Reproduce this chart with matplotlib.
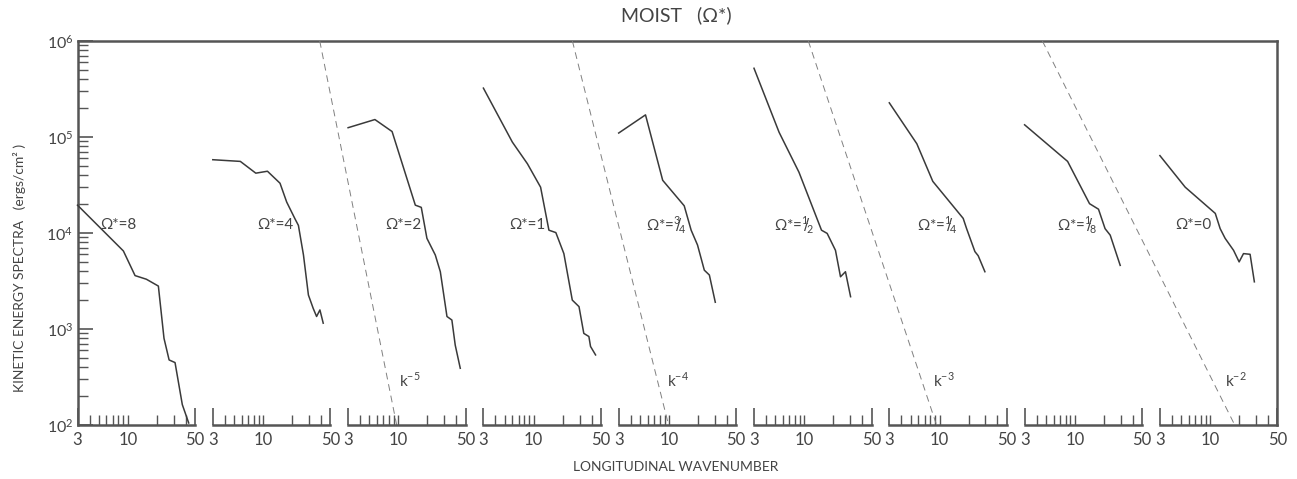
import numpy as np
import matplotlib.pyplot as plt
from matplotlib.ticker import FixedLocator, FuncFormatter, NullFormatter, LogLocator

plt.rcParams['font.family'] = ['Lato', 'DejaVu Sans']

# kinetic energy spectra (ergs/cm^2) vs longitudinal wavenumber, one panel per Omega*
K1 = [3, 9.0, 11.9, 15.6, 20.8, 23.8, 26.9, 31.0, 36.9, 43.0]
E1 = [1.95e4, 6.5e3, 3.6e3, 3.3e3, 2.8e3, 800, 476, 447, 163, 105]

K2 = [3, 5.8, 8.4, 11.1, 15.0, 17.6, 21.5, 23.3, 26.3, 29.6, 33.2, 36.0, 39.0, 42.2]
E2 = [5.8e4, 5.57e4, 4.2e4, 4.4e4, 3.3e4, 2.1e4, 1.4e4, 1.2e4, 5.9e3, 2.26e3, 1.64e3, 1.35e3, 1.58e3, 1.15e3]

K3 = [3, 5.7, 8.6, 15.0, 17.3, 19.8, 24.2, 27.3, 32.0, 36.0, 39.0, 44.0]
E3 = [1.25e5, 1.52e5, 1.14e5, 1.95e4, 1.85e4, 8.8e3, 5.9e3, 3.95e3, 1.35e3, 1.24e3, 680, 390]

K4 = [3, 6.0, 8.6, 11.8, 14.4, 17.0, 20.6, 25.2, 29.6, 33.2, 37.5, 39.0, 44.0]
E4 = [3.23e5, 8.85e4, 5.27e4, 3.0e4, 1.07e4, 1.01e4, 6.1e3, 2.0e3, 1.71e3, 900, 835, 658, 537]

K5 = [3, 5.7, 8.6, 14.4, 17.0, 19.8, 23.3, 26.3, 30.3]
E5 = [1.1e5, 1.7e5, 3.54e4, 1.92e4, 1.07e4, 7.5e3, 4.1e3, 3.65e3, 1.9e3]

K6 = [3, 5.47, 8.8, 15.1, 17.3, 21.1, 23.8, 26.8, 30.3]
E6 = [5.2e5, 1.12e5, 4.3e4, 1.07e4, 9.9e3, 6.6e3, 3.5e3, 3.95e3, 2.17e3]

K7 = [3, 5.8, 8.5, 17.6, 19.1, 23.3, 25.2, 29.6]
E7 = [2.27e5, 8.5e4, 3.45e4, 1.42e4, 1.11e4, 6.4e3, 5.8e3, 3.95e3]

K8 = [3, 8.4, 14.2, 17.6, 20.6, 23.3, 29.6]
E8 = [1.34e5, 5.57e4, 2.02e4, 1.77e4, 1.11e4, 9.5e3, 4.6e3]

K9 = [3, 5.5, 11.3, 12.7, 14.3, 17.5, 20.0, 22.2, 26.0, 28.8]
E9 = [6.4e4, 3.0e4, 1.6e4, 1.11e4, 8.8e3, 6.6e3, 5.0e3, 6.1e3, 6.0e3, 3.1e3]

K_ALL = [K1, K2, K3, K4, K5, K6, K7, K8, K9]
E_ALL = [E1, E2, E3, E4, E5, E6, E7, E8, E9]


def frac(a, b):
    return r'${}^{\mathdefault{%s}}\!\!/\!{}_{\mathdefault{%s}}$' % (a, b)


LABELS = ['Ω*=8', 'Ω*=4', 'Ω*=2', 'Ω*=1', 'Ω*=' + frac(3, 4), 'Ω*=' + frac(1, 2),
          'Ω*=' + frac(1, 4), 'Ω*=' + frac(1, 8), 'Ω*=0']
LABEL_K = [12.2, 20.6, 17.5, 13.4, 15.2, 12.5, 15.2, 17.0, 10.3]
LABEL_E = 1.2e4

# k^-n reference lines: panel, exponent, wavenumber where line reaches 10^2
REF_PANEL = [2, 4, 6, 8]
REF_POWER = [5, 4, 3, 2]
REF_K100 = [9.6, 9.9, 9.3, 18.0]
REF_LABEL_K = [10.2, 9.6, 8.5, 14.4]
REF_LABEL_E = 290

MAJOR_K = [3, 50]
MINOR_K = [4, 5, 6, 7, 8, 9, 10, 20, 30, 40]

LINE = '#3a3a3a'
FRAME = '#555555'
TEXT = '#444444'

W, H = 1297, 479
left, base, top = 77.5, 425, 41
step, pw = 135.3, 117.5
right = left + 8 * step + pw

fig = plt.figure(figsize=(W / 100, H / 100), dpi=100)

# outer frame carries the energy axis
frame = fig.add_axes([left / W, (H - base) / H, (right - left) / W, (base - top) / H])
frame.set_yscale('log')
frame.set_ylim(1e2, 1e6)
frame.set_xticks([])
frame.spines['bottom'].set_visible(False)
for s in ('left', 'top', 'right'):
    frame.spines[s].set_color(FRAME)
    frame.spines[s].set_linewidth(1.8)
frame.yaxis.set_major_locator(LogLocator(base=10))
frame.yaxis.set_minor_locator(LogLocator(base=10, subs=np.arange(2, 10)))
frame.yaxis.set_minor_formatter(NullFormatter())
frame.tick_params(axis='y', which='major', direction='in', length=11, width=1.2,
                  pad=3, labelsize=11.5, color=FRAME, labelcolor=TEXT)
frame.tick_params(axis='y', which='minor', direction='in', length=7, width=1.0, color=FRAME)

for i in range(9):
    x0 = left + i * step
    ax = fig.add_axes([x0 / W, (H - base) / H, pw / W, (base - top) / H])
    ax.set_xscale('log')
    ax.set_yscale('log')
    ax.set_xlim(3, 50)
    ax.set_ylim(1e2, 1e6)
    ax.patch.set_alpha(0)
    for s in ('left', 'right', 'top'):
        ax.spines[s].set_visible(False)
    ax.spines['bottom'].set_color(FRAME)
    ax.spines['bottom'].set_linewidth(1.8)
    ax.yaxis.set_visible(False)

    ax.xaxis.set_major_locator(FixedLocator(MAJOR_K))
    ax.xaxis.set_major_formatter(FuncFormatter(lambda v, p: f'{v:g}'))
    ax.xaxis.set_minor_locator(FixedLocator(MINOR_K))
    ax.xaxis.set_minor_formatter(FuncFormatter(lambda v, p: '10' if abs(v - 10) < 1e-9 else ''))
    ax.tick_params(axis='x', which='major', direction='in', length=12, width=1.2,
                   pad=5, labelsize=12, color=FRAME, labelcolor=TEXT)
    ax.tick_params(axis='x', which='minor', direction='in', length=7, width=1.0,
                   pad=5, labelsize=12, color=FRAME, labelcolor=TEXT)

    ax.plot(K_ALL[i], E_ALL[i], color=LINE, lw=1.1, clip_on=False)
    ax.text(LABEL_K[i], LABEL_E, LABELS[i], ha='right', va='center',
            fontsize=11, color=TEXT)

    if i in REF_PANEL:
        j = REF_PANEL.index(i)
        n = REF_POWER[j]
        k100 = REF_K100[j]
        kk = np.array([k100 * 10 ** (-4 / n), k100])
        ax.plot(kk, 1e2 * (kk / k100) ** (-n), color='#808080', lw=0.7,
                ls=(0, (7, 5)), clip_on=False)
        ax.text(REF_LABEL_K[j], REF_LABEL_E, r'k$^{\mathdefault{-%d}}$' % n,
                ha='left', va='center', fontsize=11, color=TEXT)

fig.text(676 / W, 1 - 15 / H, 'MOIST   (Ω*)', ha='center', va='center',
         fontsize=14, color=TEXT)
fig.text(676 / W, 1 - 467 / H, 'LONGITUDINAL WAVENUMBER', ha='center', va='center',
         fontsize=10, color=TEXT)
fig.text(20 / W, 1 - 268 / H, 'KINETIC ENERGY SPECTRA   (ergs/cm² )', rotation=90,
         ha='center', va='center', fontsize=10, color=TEXT)

fig.savefig('out.png', dpi=100)
